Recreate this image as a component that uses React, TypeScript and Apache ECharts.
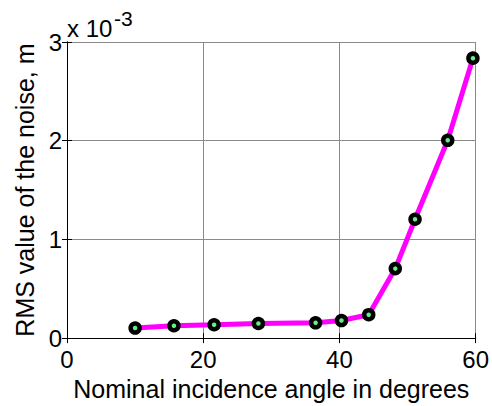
import React, { useEffect, useRef } from "react";
import * as echarts from "echarts";

const xValues = [10, 15.7, 21.6, 28.1, 36.5, 40.3, 44.3, 48.2, 51.1, 55.9, 59.6];
const yValues = [0.102, 0.125, 0.135, 0.148, 0.155, 0.178, 0.237, 0.704, 1.204, 2.004, 2.836]; // x 10^-3 m
const xTicks = [0, 20, 40, 60];
const yTicks = [0, 1, 2, 3];
const xLabel = "Nominal incidence angle in degrees";
const yLabel = "RMS value of the noise, m";

const FONT = "'Liberation Sans', Arial, sans-serif";

export default function App() {
  const ref = useRef<HTMLDivElement>(null);
  useEffect(() => {
    if (!ref.current) return;
    const chart = echarts.init(ref.current, null, { renderer: "svg" });
    const data = xValues.map((x, i) => [x, yValues[i]]);
    const axisCommon = {
      type: "value" as const,
      axisLine: { show: true, lineStyle: { color: "#000", width: 1 } },
      axisTick: { show: true, inside: true, length: 5, lineStyle: { color: "#000" } },
    };
    chart.setOption({
      animation: false,
      backgroundColor: "#fff",
      grid: { left: 67, top: 42, right: 16, bottom: 60, containLabel: false },
      xAxis: [
        {
          ...axisCommon,
          min: xTicks[0],
          max: xTicks[xTicks.length - 1],
          interval: 20,
          position: "bottom",
          axisLabel: { color: "#000", fontSize: 24, fontFamily: FONT, margin: 9 },
          splitLine: { show: true, lineStyle: { color: "#8a8a8a", width: 1 } },
          name: xLabel,
          nameLocation: "middle",
          nameGap: 35,
          nameTextStyle: { color: "#000", fontSize: 25, fontFamily: FONT },
        },
        {
          ...axisCommon,
          min: xTicks[0],
          max: xTicks[xTicks.length - 1],
          interval: 20,
          position: "top",
          axisLabel: { show: false },
          splitLine: { show: false },
        },
      ],
      yAxis: [
        {
          ...axisCommon,
          min: yTicks[0],
          max: yTicks[yTicks.length - 1],
          interval: 1,
          position: "left",
          axisLabel: { color: "#000", fontSize: 24, fontFamily: FONT, margin: 5 },
          splitLine: { show: true, lineStyle: { color: "#8a8a8a", width: 1 } },
          name: yLabel,
          nameLocation: "middle",
          nameGap: 29,
          nameRotate: 90,
          nameTextStyle: { color: "#000", fontSize: 25, fontFamily: FONT },
        },
        {
          ...axisCommon,
          min: yTicks[0],
          max: yTicks[yTicks.length - 1],
          interval: 1,
          position: "right",
          axisLabel: { show: false },
          splitLine: { show: false },
        },
      ],
      graphic: [
        {
          type: "text",
          left: 67,
          top: 16,
          style: { text: "x 10", fontSize: 24, fontFamily: FONT, fill: "#000" },
        },
        {
          type: "text",
          left: 114,
          top: 8,
          style: { text: "-3", fontSize: 21, fontFamily: FONT, fill: "#000" },
        },
      ],
      series: [
        {
          type: "line",
          data,
          xAxisIndex: 0,
          yAxisIndex: 0,
          lineStyle: { color: "#ff00ff", width: 5 },
          symbol: "circle",
          symbolSize: 9,
          itemStyle: { color: "#66ee88", borderColor: "#000", borderWidth: 4.5 },
          z: 5,
        },
      ],
    });
    return () => chart.dispose();
  }, []);
  return <div ref={ref} style={{ width: 492, height: 406, position: "absolute", left: 0, top: 0 }} />;
}
